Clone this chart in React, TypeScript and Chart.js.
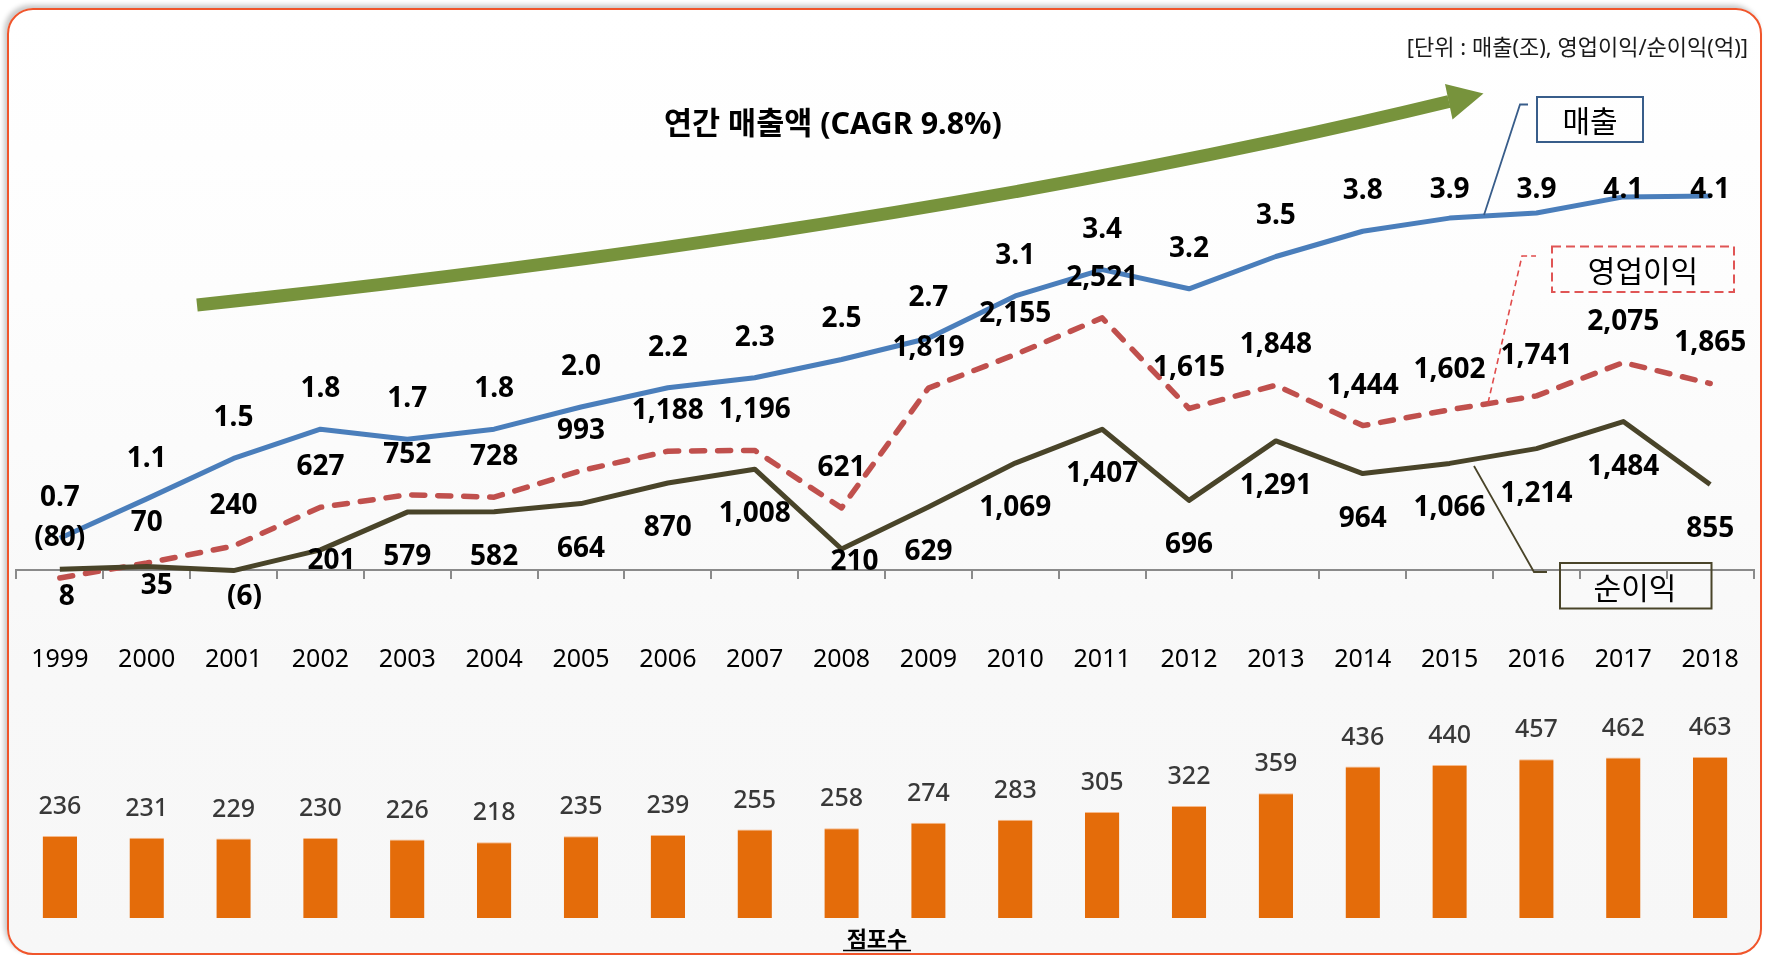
import React, { useEffect, useRef } from 'react';
import { Chart, registerables } from 'chart.js';

Chart.register(...registerables);

const FONT = '"Noto Sans", "Noto Sans CJK KR", sans-serif';

// ---- data ----
const years = ['1999', '2000', '2001', '2002', '2003', '2004', '2005', '2006', '2007', '2008', '2009', '2010', '2011', '2012', '2013', '2014', '2015', '2016', '2017', '2018'];
// 매출 (조)
const sales = [0.72, 1.11, 1.51, 1.8, 1.7, 1.8, 2.02, 2.21, 2.31, 2.49, 2.7, 3.12, 3.38, 3.19, 3.51, 3.76, 3.89, 3.94, 4.1, 4.11];
// 영업이익 (억)
const operatingProfit = [-80, 70, 240, 627, 752, 728, 993, 1188, 1196, 621, 1819, 2155, 2521, 1615, 1848, 1444, 1602, 1741, 2075, 1865];
// 순이익 (억)
const netProfit = [8, 35, -6, 201, 579, 582, 664, 870, 1008, 210, 629, 1069, 1407, 696, 1291, 964, 1066, 1214, 1484, 855];
// 점포수
const stores = [236, 231, 229, 230, 226, 218, 235, 239, 255, 258, 274, 283, 305, 322, 359, 436, 440, 457, 462, 463];

const PAD_X = 16.4;

const fmtProfit = (v: number) => {
  const s = Math.abs(v).toLocaleString('en-US');
  return v < 0 ? `(${s})` : s;
};

// manual nudges of a few 순이익 labels [dx, dy] relative to the point
const NET_NUDGE: Record<number, [number, number]> = {
  0: [7, 28],
  1: [10, 20],
  2: [11, 26],
  3: [11, 11],
  9: [13, 13],
};

const lineLabelPlugin = {
  id: 'lineLabels',
  afterDatasetsDraw(chart: any) {
    const ctx = chart.ctx;
    ctx.save();
    ctx.font = `bold 28px ${FONT}`;
    ctx.fillStyle = '#000';
    ctx.textAlign = 'center';
    ctx.textBaseline = 'middle';
    chart.data.datasets.forEach((ds: any, di: number) => {
      const meta = chart.getDatasetMeta(di);
      meta.data.forEach((pt: any, i: number) => {
        const v = ds.data[i] as number;
        let x = pt.x;
        let y = pt.y;
        let text = '';
        if (ds.kind === 'sales') {
          text = v.toFixed(1);
          y = Math.max(y - 40, 190);
        } else if (ds.kind === 'op') {
          text = fmtProfit(v);
          y = y - 40;
        } else {
          text = fmtProfit(v);
          const n = NET_NUDGE[i];
          if (n) {
            x += n[0];
            y += n[1];
          } else {
            y += 45;
          }
        }
        ctx.fillText(text, x, y);
      });
    });
    ctx.restore();
  },
};

const barLabelPlugin = {
  id: 'barLabels',
  afterDatasetsDraw(chart: any) {
    const ctx = chart.ctx;
    ctx.save();
    ctx.font = `500 25px ${FONT}`;
    ctx.fillStyle = '#383838';
    ctx.textAlign = 'center';
    ctx.textBaseline = 'middle';
    const ds = chart.data.datasets[0];
    chart.getDatasetMeta(0).data.forEach((bar: any, i: number) => {
      ctx.fillText(String(ds.data[i]), bar.x, bar.y - 29);
    });
    ctx.restore();
  },
};

export default function App() {
  const lineRef = useRef<HTMLCanvasElement | null>(null);
  const barRef = useRef<HTMLCanvasElement | null>(null);

  useEffect(() => {
    if (!lineRef.current || !barRef.current) return;
    const lineChart = new Chart(lineRef.current, {
      type: 'line',
      data: {
        labels: years,
        datasets: [
          {
            kind: 'net',
            data: netProfit,
            yAxisID: 'yP',
            borderColor: '#494429',
            borderWidth: 5,
            pointRadius: 0,
            tension: 0,
            clip: false,
            borderJoinStyle: 'round',
          } as any,
          {
            kind: 'op',
            data: operatingProfit,
            yAxisID: 'yP',
            borderColor: '#c0504d',
            borderWidth: 5.5,
            borderDash: [13, 13],
            borderCapStyle: 'round',
            pointRadius: 0,
            tension: 0,
            clip: false,
            borderJoinStyle: 'round',
          } as any,
          {
            kind: 'sales',
            data: sales,
            yAxisID: 'yS',
            borderColor: '#4a7ebb',
            borderWidth: 5,
            pointRadius: 0,
            tension: 0,
            clip: false,
            borderJoinStyle: 'round',
          } as any,
        ],
      },
      options: {
        responsive: false,
        animation: false,
        layout: { padding: { left: PAD_X, right: PAD_X, top: 150, bottom: 19 } },
        plugins: { legend: { display: false }, tooltip: { enabled: false } },
        scales: {
          x: {
            type: 'category',
            offset: true,
            grid: {
              display: true,
              drawOnChartArea: false,
              drawTicks: true,
              tickLength: 9,
              offset: true,
              color: '#8a8a8a',
              lineWidth: 2,
            },
            border: { display: true, color: '#8a8a8a', width: 2 },
            ticks: {
              font: { size: 25, family: FONT, lineHeight: '156px' },
              color: '#000',
              padding: 3,
              maxRotation: 0,
              autoSkip: false,
            },
          },
          yS: { display: false, min: 0.40594, max: 4.56436 },
          yP: { display: false, min: 0, max: 4200 },
        },
      } as any,
      plugins: [lineLabelPlugin],
    });

    const barChart = new Chart(barRef.current, {
      type: 'bar',
      data: {
        labels: years,
        datasets: [
          {
            data: stores,
            backgroundColor: '#e46c0a',
            borderColor: '#f6b98a',
            borderWidth: { top: 1, left: 0, right: 0, bottom: 0 },
            borderSkipped: 'bottom',
            categoryPercentage: 1,
            barPercentage: 0.396,
          } as any,
        ],
      },
      options: {
        responsive: false,
        animation: false,
        layout: { padding: { left: PAD_X, right: PAD_X, top: 0, bottom: 37 } },
        plugins: { legend: { display: false }, tooltip: { enabled: false } },
        scales: {
          x: { type: 'category', display: false, offset: true },
          y: { display: false, min: 0, max: 684.9 },
        },
      } as any,
      plugins: [barLabelPlugin],
    });

    return () => {
      lineChart.destroy();
      barChart.destroy();
    };
  }, []);

  return (
    <div
      style={{
        position: 'absolute',
        left: 0,
        top: 0,
        width: 1770,
        height: 955,
        overflow: 'hidden',
        background: '#fff',
        fontFamily: FONT,
      }}
    >
      <div
        style={{
          position: 'absolute',
          left: 7,
          top: 8,
          width: 1755,
          height: 947,
          boxSizing: 'border-box',
          border: '2px solid #f0552b',
          borderRadius: 26,
          background: 'linear-gradient(180deg, #ffffff 0%, #fdfdfd 30%, #f8f8f8 70%, #f7f7f7 100%)',
          boxShadow: '-3px -3px 5px rgba(0,0,0,0.22)',
        }}
      />
      <canvas
        ref={barRef}
        width={1770}
        height={275}
        style={{ position: 'absolute', left: 0, top: 680, display: 'block' }}
      />
      <canvas
        ref={lineRef}
        width={1770}
        height={760}
        style={{ position: 'absolute', left: 0, top: 0, display: 'block' }}
      />
      <svg
        width={1770}
        height={955}
        style={{ position: 'absolute', left: 0, top: 0, pointerEvents: 'none', fontFamily: FONT }}
      >
        {/* CAGR arrow */}
        <path d="M197 305 Q927 228 1449 101.5" stroke="#77933c" strokeWidth={13} fill="none" />
        <polygon points="1445,84 1483.5,93.5 1452.5,119.5" fill="#77933c" />
        <text x={833} y={122} textAnchor="middle" dominantBaseline="central" fontSize={30.5} fontWeight={700} fill="#000">
          연간 매출액 (CAGR 9.8%)
        </text>
        <text x={1748} y={46} textAnchor="end" dominantBaseline="central" fontSize={22} fill="#1a1a1a">
          [단위 : 매출(조), 영업이익/순이익(억)]
        </text>

        {/* 매출 callout */}
        <polyline points="1484,215 1520,104.5 1528,104.5" stroke="#385d8a" strokeWidth={1.8} fill="none" />
        <rect x={1537} y={97} width={106} height={45} stroke="#385d8a" strokeWidth={2} fill="none" />
        <text x={1590} y={120} textAnchor="middle" dominantBaseline="central" fontSize={30} fill="#000">
          매출
        </text>

        {/* 영업이익 callout */}
        <polyline
          points="1488,403 1522,256 1536,256"
          stroke="#e04b4b"
          strokeWidth={1.6}
          strokeDasharray="6 4"
          fill="none"
        />
        <rect
          x={1552}
          y={246.5}
          width={182}
          height={45.5}
          stroke="#e05555"
          strokeWidth={2}
          strokeDasharray="9 5"
          fill="none"
        />
        <text x={1643} y={270} textAnchor="middle" dominantBaseline="central" fontSize={30} fill="#000">
          영업이익
        </text>

        {/* 순이익 callout */}
        <polyline points="1474,466 1534,572 1547,572" stroke="#494429" strokeWidth={1.8} fill="none" />
        <rect x={1560} y={563} width={151.5} height={45.5} stroke="#494429" strokeWidth={2} fill="none" />
        <text x={1635} y={587} textAnchor="middle" dominantBaseline="central" fontSize={30} fill="#000">
          순이익
        </text>

        {/* 점포수 */}
        <text x={877} y={938} textAnchor="middle" dominantBaseline="central" fontSize={22} fontWeight={700} fill="#000">
          점포수
        </text>
        <line x1={843} y1={950.5} x2={911} y2={950.5} stroke="#000" strokeWidth={1.5} />
      </svg>
    </div>
  );
}
